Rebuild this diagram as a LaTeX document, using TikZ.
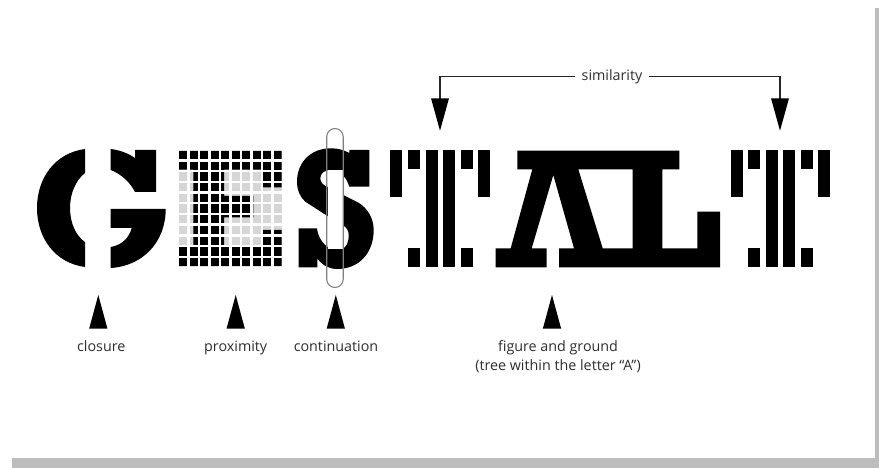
\documentclass[tikz,border=0pt]{standalone}
\usepackage{fontspec}
\setmainfont{Open Sans}
\definecolor{frameg}{HTML}{BDBDBD}
\definecolor{cellg}{HTML}{D6D6D6}
\definecolor{txt}{HTML}{2E2E2E}
\tikzset{
  letter/.style={fill=black,draw=none},
  lab/.style={font=\fontsize{14.3}{19.3}\selectfont,text=txt,inner sep=0pt,align=center},
  head/.style={fill=black,draw=none},
  conn/.style={draw=black!85,line width=1.4pt},
  frm/.style={fill=frameg,draw=none}
}
\begin{document}
\begin{tikzpicture}[x=1pt,y=-1pt]
\useasboundingbox (0,0) rectangle (879,468);
\fill[white] (0,0) rectangle (879,468);
% frame
\path[frm] (875,8) rectangle (879,468);
\path[frm] (12,458) rectangle (879,468);
% G
\path[letter] (85,149) .. controls (55,153) and (37,178) .. (37,208) .. controls (37,238) and (55,263) .. (85,267) -- (85,242) .. controls (76,236) and (70,223) .. (70,208) .. controls (70,193) and (76,180) .. (85,173) -- cycle;
\path[letter] (110.7,149) .. controls (119,150) and (128,153) .. (135,158) -- (135,150) -- (156,150) -- (156,192) -- (135,192) .. controls (130,182) and (121,174) .. (110.7,170) -- cycle;
\path[letter] (110.7,209) -- (165.7,209) .. controls (165.7,242) and (143,266) .. (110.7,268) -- (110.7,247) .. controls (122,245) and (129,238) .. (131.7,228) -- (110.7,228) -- cycle;
% E grid
\fill[cellg] (179,151) rectangle (281.5,266);
\fill[black] (179,151) -- (281.5,151) -- (281.5,187.3) -- (263,187.3) -- (263,169.7) -- (224,169.7) -- (224,196) -- (253.3,196) -- (253.3,217.3) -- (224,217.3) -- (224,247) -- (263,247) -- (263,230) -- (281.5,230) -- (281.5,266) -- (179,266) -- (179,247) -- (193.3,247) -- (193.3,169.7) -- (179,169.7) -- cycle;
\foreach \i in {1,...,9} \fill[white] ({179+10.5*\i-2.4},149) rectangle ({179+10.5*\i},268);
\foreach \j in {1,...,10} \fill[white] (177,{151+10.7*\j-2.4}) rectangle (284,{151+10.7*\j});
% S
\path[letter] (349.3,153) .. controls (344,150) and (338,148.3) .. (331,148.3) .. controls (310,148.3) and (297,163) .. (297,181.7) .. controls (297,190) and (300,197) .. (305.3,201.7) -- (327,215.7) -- (343,225) .. controls (347,228) and (348.7,231) .. (348.7,235) .. controls (348.7,243) and (346,248.3) .. (342,248.3) -- (335,249) .. controls (325,249) and (318,238) .. (317,228.3) -- (298.5,228.3) -- (298.5,267.3) -- (317.3,267.3) -- (317.3,258.5) .. controls (322,265) and (329,269) .. (337,269) .. controls (360,269) and (373.7,252) .. (373.7,230) .. controls (373.7,218) and (367,208) .. (359,203) -- (327,186.7) .. controls (323,185) and (320.3,182) .. (320.3,178.3) .. controls (320.3,173) and (325,170) .. (330,170) .. controls (340,170) and (347,178) .. (349.3,186.7) -- (369.3,186.7) -- (369.3,150) -- (349.3,150) -- cycle;
\fill[white] (327.5,170) rectangle (342.5,248.5);
\draw[draw=black!50,line width=1.1pt,rounded corners=8.3pt] (326.7,128.5) rectangle (343.2,287.5);
% first T
\foreach \xa/\xb in {390/402.3,478/490}{\path[letter] (\xa,150) rectangle (\xb,196.7);}
\foreach \xa/\xb in {425.7/437.7,443.3/455.3}{\path[letter] (\xa,150) rectangle (\xb,267.3);}
\foreach \xa/\xb in {407.7/420,460.7/473}{\path[letter] (\xa,150) rectangle (\xb,169.3); \path[letter] (\xa,248) rectangle (\xb,267.3);}
% AL
\path[letter,even odd rule] (517.3,150.7) -- (679.3,150.7) -- (679.3,169.3) -- (662.3,169.3) -- (662.3,248.3) -- (697.3,248.3) -- (697.3,211.7) -- (720,211.7) -- (720,267.3) -- (559,267.3) -- (559,248.3) -- (574,248.3) -- (553.3,175) -- (531.7,248.3) -- (546.7,248.3) -- (546.7,267.3) -- (495.7,267.3) -- (495.7,248.3) -- (510.7,248.3) -- (532.3,169.3) -- (517.3,169.3) -- cycle
 (578.3,169.3) -- (632.7,169.3) -- (632.7,248.3) -- (602.7,248.3) -- cycle;
% last T
\foreach \xa/\xb in {730.7/743,818.3/830.3}{\path[letter] (\xa,150) rectangle (\xb,196.7);}
\foreach \xa/\xb in {765.7/777.7,783.3/795.3}{\path[letter] (\xa,150) rectangle (\xb,267.3);}
\foreach \xa/\xb in {748.3/760.3,801/813}{\path[letter] (\xa,150) rectangle (\xb,169.3); \path[letter] (\xa,248) rectangle (\xb,267.3);}
% similarity
\node[lab,anchor=base] (sim) at (612,80.5) {similarity};
\coordinate (hl) at (440,100);
\coordinate (hr) at (780,100);
\draw[conn] ([xshift=-6pt]sim.west) -| (hl);
\draw[conn] ([xshift=6pt]sim.east) -| (hr);
\path[head] (431,98.3) -- (449,98.3) -- (440,130.7) -- cycle;
\path[head] (771,98.3) -- (789,98.3) -- (780,130.7) -- cycle;
% pointers
\foreach \c in {98.3,235.7,335.8,552}{\path[head] ({\c-9.1},328.5) -- ({\c+9.1},328.5) -- (\c,295) -- cycle;}
% labels
\node[lab,anchor=base] (clo) at (101.3,351.5) {closure};
\node[lab,anchor=base] (pro) at (235.7,351.5) {proximity};
\node[lab,anchor=base] (con) at (336,351.5) {continuation};
\node[lab,anchor=north] (fig) at (558,340) {figure and ground\\(tree within the letter “A”)};
\end{tikzpicture}
\end{document}
